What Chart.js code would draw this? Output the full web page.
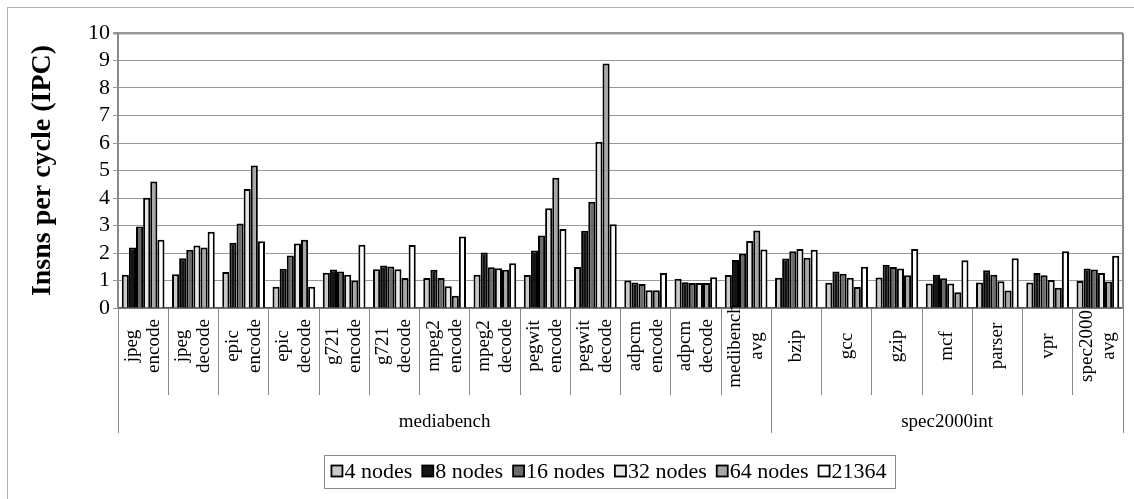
<!DOCTYPE html>
<html>
<head>
<meta charset="utf-8">
<script src="https://cdn.jsdelivr.net/npm/chart.js@4"></script>
<style>
  html, body { margin: 0; padding: 0; background: #fff; }
  canvas { display: block; }
</style>
</head>
<body>
<canvas id="ipc" width="1134" height="499"></canvas>
<script>
// Benchmarks (two-line labels) and the suites they belong to
const categories = [
  ["jpeg", "encode"], ["jpeg", "decode"], ["epic", "encode"], ["epic", "decode"],
  ["g721", "encode"], ["g721", "decode"], ["mpeg2", "encode"], ["mpeg2", "decode"],
  ["pegwit", "encode"], ["pegwit", "decode"], ["adpcm", "encode"], ["adpcm", "decode"],
  ["medibench", "avg"], ["bzip"], ["gcc"], ["gzip"], ["mcf"], ["parser"], ["vpr"],
  ["spec2000", "avg"]
];
const groupNames = ["mediabench", "spec2000int"];
const groupSizes = [13, 7];

// Instructions per cycle for each configuration
const nodes4  = [1.21, 1.23, 1.31, 0.77, 1.28, 1.41, 1.09, 1.21, 1.20, 1.49, 1.00, 1.06, 1.20, 1.10, 0.92, 1.11, 0.89, 0.93, 0.93, 0.98];
const nodes8  = [2.20, 1.81, 2.37, 1.43, 1.40, 1.55, 1.39, 2.02, 2.09, 2.81, 0.93, 0.94, 1.75, 1.80, 1.33, 1.57, 1.21, 1.37, 1.27, 1.44];
const nodes16 = [2.96, 2.12, 3.07, 1.91, 1.33, 1.51, 1.09, 1.48, 2.64, 3.86, 0.87, 0.91, 1.97, 2.06, 1.25, 1.49, 1.08, 1.21, 1.19, 1.40];
const nodes32 = [4.01, 2.27, 4.33, 2.35, 1.21, 1.41, 0.79, 1.45, 3.63, 6.05, 0.65, 0.91, 2.44, 2.15, 1.10, 1.44, 0.89, 0.97, 1.02, 1.27];
const nodes64 = [4.60, 2.20, 5.18, 2.48, 1.00, 1.09, 0.45, 1.39, 4.74, 8.89, 0.65, 0.91, 2.82, 1.83, 0.76, 1.19, 0.57, 0.64, 0.74, 0.96];
const alpha21364 = [2.48, 2.77, 2.43, 0.77, 2.30, 2.29, 2.60, 1.63, 2.87, 3.05, 1.27, 1.12, 2.13, 2.12, 1.50, 2.15, 1.74, 1.81, 2.06, 1.90];

const seriesLabels = ["4 nodes", "8 nodes", "16 nodes", "32 nodes", "64 nodes", "21364"];
const seriesValues = [nodes4, nodes8, nodes16, nodes32, nodes64, alpha21364];
const seriesColors = ["#c9c9c9", "#151515", "#6c6c6c", "#e6e6e6", "#a7a7a7", "#ffffff"];

const yTicks = [0, 1, 2, 3, 4, 5, 6, 7, 8, 9, 10];

const SERIF = '"Liberation Serif", "Times New Roman", serif';

const datasets = seriesLabels.map((label, i) => ({
  label,
  data: seriesValues[i],
  backgroundColor: seriesColors[i],
  borderColor: "#000",
  borderWidth: 2,
  barPercentage: 1.0,
  categoryPercentage: 0.85
}));

// Category labels, suite brackets, plot frame and the boxed legend
const decorations = {
  id: "decorations",
  beforeDraw(chart) {
    const ctx = chart.ctx;
    ctx.save();
    ctx.fillStyle = "#fff";
    ctx.fillRect(0, 0, chart.width, chart.height);
    ctx.strokeStyle = "#b0b0b0";
    ctx.lineWidth = 1;
    ctx.strokeRect(7.5, 7.5, chart.width + 20, chart.height + 20);
    ctx.restore();
  },
  afterDraw(chart) {
    const ctx = chart.ctx;
    const xs = chart.scales.x;
    const area = chart.chartArea;
    const n = categories.length;
    const step = (xs.right - xs.left) / n;

    ctx.save();
    // right edge of the plot
    ctx.strokeStyle = "#8a8a8a";
    ctx.lineWidth = 2;
    ctx.beginPath();
    ctx.moveTo(area.right, area.top);
    ctx.lineTo(area.right, area.bottom);
    ctx.stroke();

    // suite dividers running down to the suite names
    ctx.strokeStyle = "#888";
    ctx.lineWidth = 1;
    let k = 0;
    const bounds = [0];
    groupSizes.forEach(s => { k += s; bounds.push(k); });
    bounds.forEach(b => {
      const x = Math.round(xs.left + b * step) + 0.5;
      ctx.beginPath();
      ctx.moveTo(x, area.bottom);
      ctx.lineTo(x, 433);
      ctx.stroke();
    });

    // rotated benchmark names
    ctx.fillStyle = "#000";
    ctx.font = "19px " + SERIF;
    ctx.textAlign = "center";
    ctx.textBaseline = "middle";
    const lh = 22;
    categories.forEach((lines, i) => {
      const x = xs.getPixelForValue(i);
      ctx.save();
      ctx.translate(x, 346);
      ctx.rotate(-Math.PI / 2);
      lines.forEach((t, j) => {
        ctx.fillText(t, 0, (j - (lines.length - 1) / 2) * lh);
      });
      ctx.restore();
    });

    // suite names
    ctx.font = "19px " + SERIF;
    let start = 0;
    groupNames.forEach((name, g) => {
      const end = start + groupSizes[g];
      const cx = xs.left + (start + end) / 2 * step;
      ctx.fillText(name, cx, 422);
      start = end;
    });

    // legend
    ctx.font = "22px " + SERIF;
    ctx.textAlign = "left";
    const box = 11, gap = 2, spacing = 10;
    const widths = chart.data.datasets.map(d => ctx.measureText(d.label).width);
    const total = widths.reduce((a, w) => a + box + gap + w, 0) + spacing * (widths.length - 1);
    const cxLegend = 609;
    let x = cxLegend - total / 2;
    const cy = 471;
    ctx.strokeStyle = "#8a8a8a";
    ctx.lineWidth = 1;
    ctx.strokeRect(Math.round(x - 7) + 0.5, 455.5, Math.round(total + 16), 33);
    chart.data.datasets.forEach((d, i) => {
      ctx.fillStyle = d.backgroundColor;
      ctx.fillRect(x, cy - box / 2, box, box);
      ctx.strokeStyle = "#000";
      ctx.lineWidth = 1.8;
      ctx.strokeRect(x, cy - box / 2, box, box);
      ctx.fillStyle = "#000";
      ctx.fillText(d.label, x + box + gap, cy + 1);
      x += box + gap + widths[i] + spacing;
    });
    ctx.restore();
  }
};

new Chart(document.getElementById("ipc"), {
  type: "bar",
  data: { labels: categories.map(c => c.join(" ")), datasets },
  plugins: [decorations],
  options: {
    responsive: false,
    animation: false,
    layout: { padding: { top: 33, right: 11, bottom: 0, left: 0 } },
    plugins: {
      legend: { display: false },
      tooltip: { enabled: false }
    },
    scales: {
      x: {
        offset: true,
        grid: {
          display: true,
          offset: true,
          drawOnChartArea: false,
          drawTicks: true,
          tickLength: 87,
          color: "#8a8a8a",
          lineWidth: 1
        },
        border: { display: true, color: "#555", width: 1.5 },
        ticks: { display: false },
        afterFit: s => { s.height = 499 - 308; }
      },
      y: {
        min: 0,
        max: 10,
        afterBuildTicks: s => { s.ticks = yTicks.map(v => ({ value: v })); },
        ticks: {
          color: "#000",
          font: { family: SERIF, size: 22 },
          padding: 3,
          autoSkip: false
        },
        grid: {
          color: "#999",
          lineWidth: c => (c.tick && c.tick.value === 10 ? 2.5 : 1),
          tickLength: 5,
          drawTicks: true
        },
        border: { display: true, color: "#8a8a8a", width: 2 },
        title: {
          display: true,
          text: "Insns per cycle (IPC)",
          color: "#000",
          font: { family: SERIF, size: 28, weight: "bold" },
          padding: { top: 26, bottom: 0 }
        },
        afterFit: s => { s.width = 118; }
      }
    }
  }
});
</script>
</body>
</html>
